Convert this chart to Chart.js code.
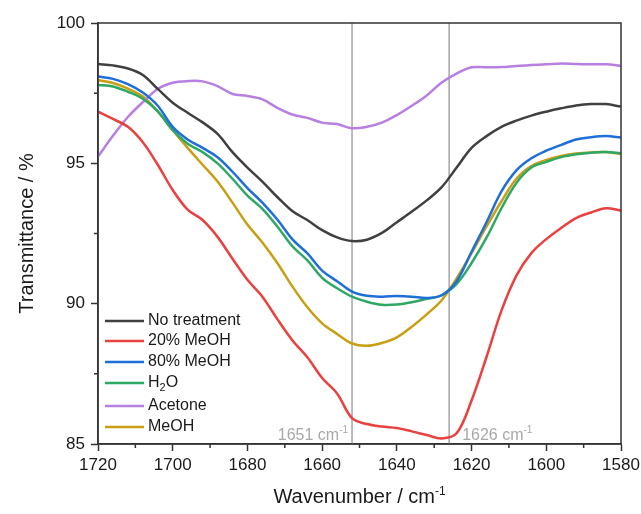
<!DOCTYPE html>
<html>
<head>
<meta charset="utf-8">
<script src="https://cdn.jsdelivr.net/npm/chart.js@4/dist/chart.umd.min.js"></script>
<style>
  html, body { margin: 0; padding: 0; background: #fff; }
  canvas { display: block; }
</style>
</head>
<body>
<canvas id="ftir" width="641" height="514"></canvas>
<script>
// wavenumber grid, cm-1
var wavenumbers = [1720,1716,1712,1708,1704,1700,1696,1692,1688,1684,1680,1676,1672,1668,1664,1660,1656,1652,
                   1648,1644,1640,1636,1632,1628,1624,1620,1616,1612,1608,1604,1600,1596,1592,1588,1584,1580];

var noTreatment = [98.54,98.49,98.38,98.15,97.65,97.16,96.80,96.46,96.05,95.40,94.85,94.35,93.80,93.30,92.98,92.62,92.36,92.23,
                   92.28,92.52,92.90,93.28,93.68,94.15,94.85,95.55,95.97,96.30,96.52,96.70,96.84,96.96,97.06,97.11,97.11,97.02];
var meoh20 = [96.84,96.58,96.30,95.75,94.95,94.05,93.35,92.98,92.38,91.60,90.85,90.25,89.45,88.70,88.10,87.35,86.80,85.92,
              85.71,85.62,85.57,85.45,85.32,85.20,85.38,86.55,88.10,89.75,91.00,91.80,92.30,92.70,93.05,93.25,93.40,93.32];
var meoh80 = [98.09,98.01,97.82,97.52,97.05,96.30,95.85,95.55,95.22,94.70,94.12,93.60,93.00,92.30,91.80,91.18,90.80,90.43,
              90.28,90.25,90.27,90.25,90.20,90.30,90.80,91.85,92.90,94.00,94.75,95.18,95.45,95.66,95.85,95.93,95.97,95.92];
var water = [97.79,97.74,97.55,97.30,96.85,96.18,95.70,95.40,95.00,94.45,93.85,93.38,92.75,92.05,91.55,90.92,90.55,90.25,
             90.07,89.96,89.97,90.05,90.17,90.30,90.70,91.45,92.35,93.40,94.30,94.85,95.05,95.22,95.32,95.38,95.40,95.36];
var acetone = [95.24,95.98,96.65,97.18,97.65,97.87,97.93,97.92,97.75,97.47,97.40,97.28,96.98,96.74,96.62,96.45,96.40,96.25,
               96.30,96.45,96.72,97.05,97.42,97.88,98.20,98.42,98.42,98.43,98.47,98.50,98.53,98.56,98.54,98.53,98.53,98.47];
var meoh = [97.97,97.86,97.66,97.38,96.85,96.18,95.55,94.95,94.35,93.60,92.82,92.18,91.45,90.62,89.88,89.30,88.92,88.58,
            88.50,88.60,88.80,89.18,89.62,90.12,90.90,91.80,92.75,93.65,94.45,94.90,95.12,95.26,95.35,95.39,95.40,95.33];

var seriesNames = ['No treatment', '20% MeOH', '80% MeOH', 'H2O', 'Acetone', 'MeOH'];
var seriesColors = ['#404040', '#e8413f', '#1f6fd8', '#2fa865', '#b77fe0', '#c99e12'];
var seriesValues = [noTreatment, meoh20, meoh80, water, acetone, meoh];

var markerLines = [1652, 1626];
var markerLabels = ['1651', '1626'];
var xMinorTicks = [1710, 1690, 1670, 1650, 1630, 1610, 1590];
var yMinorTicks = [97.5, 92.5, 87.5];

var FONT = '"Liberation Sans", Arial, sans-serif';

function toPoints(vals) {
  return wavenumbers.map(function(w, i){ return {x: w, y: vals[i]}; });
}

// text with a superscript tail like cm-1
function textWithSup(ctx, x, y, main, sup, size, align) {
  ctx.font = size + 'px ' + FONT;
  var w1 = ctx.measureText(main).width;
  ctx.font = Math.round(size * 0.62) + 'px ' + FONT;
  var w2 = ctx.measureText(sup).width;
  var start = align === 'right' ? x - w1 - w2 : (align === 'center' ? x - (w1 + w2) / 2 : x);
  ctx.textAlign = 'left';
  ctx.font = size + 'px ' + FONT;
  ctx.fillText(main, start, y);
  ctx.font = Math.round(size * 0.62) + 'px ' + FONT;
  ctx.fillText(sup, start + w1, y - size * 0.42);
}

var decorPlugin = {
  id: 'decor',
  beforeDatasetsDraw: function(chart) {
    var ctx = chart.ctx, a = chart.chartArea, xs = chart.scales.x;
    ctx.save();
    ctx.strokeStyle = '#a5a5a5';
    ctx.lineWidth = 1.5;
    markerLines.forEach(function(w){
      var px = xs.getPixelForValue(w);
      ctx.beginPath(); ctx.moveTo(px, a.top); ctx.lineTo(px, a.bottom); ctx.stroke();
    });
    ctx.restore();
  },
  afterDraw: function(chart) {
    var ctx = chart.ctx, a = chart.chartArea, xs = chart.scales.x, ys = chart.scales.y;
    ctx.save();
    // frame
    ctx.strokeStyle = '#333';
    ctx.lineWidth = 1.5;
    ctx.strokeRect(a.left, a.top, a.right - a.left, a.bottom - a.top);
    // minor ticks
    ctx.beginPath();
    xMinorTicks.forEach(function(v){
      var px = xs.getPixelForValue(v);
      ctx.moveTo(px, a.bottom); ctx.lineTo(px, a.bottom + 4);
    });
    yMinorTicks.forEach(function(v){
      var py = ys.getPixelForValue(v);
      ctx.moveTo(a.left, py); ctx.lineTo(a.left - 4, py);
    });
    ctx.stroke();

    // marker labels
    ctx.fillStyle = '#a8a8a8';
    ctx.textBaseline = 'alphabetic';
    var p1 = xs.getPixelForValue(markerLines[0]);
    var p2 = xs.getPixelForValue(markerLines[1]);
    textWithSup(ctx, p1 - 4, a.bottom - 4, markerLabels[0] + ' cm', '-1', 16, 'right');
    textWithSup(ctx, p2 + 13, a.bottom - 4, markerLabels[1] + ' cm', '-1', 16, 'left');

    // axis titles
    ctx.fillStyle = '#1a1a1a';
    textWithSup(ctx, (a.left + a.right) / 2, 503, 'Wavenumber / cm', '-1', 20, 'center');
    ctx.save();
    ctx.translate(33, (a.top + a.bottom) / 2);
    ctx.rotate(-Math.PI / 2);
    ctx.font = '20px ' + FONT;
    ctx.textAlign = 'center';
    ctx.fillText('Transmittance / %', 0, 0);
    ctx.restore();

    // legend
    var rows = [321, 341, 362, 383, 406, 427];
    ctx.lineWidth = 2.5;
    ctx.textAlign = 'left';
    ctx.textBaseline = 'middle';
    seriesNames.forEach(function(name, i){
      var y = rows[i];
      ctx.strokeStyle = seriesColors[i];
      ctx.beginPath(); ctx.moveTo(105, y); ctx.lineTo(144, y); ctx.stroke();
      ctx.fillStyle = '#1a1a1a';
      ctx.font = '16px ' + FONT;
      if (name === 'H2O') {
        ctx.fillText('H', 148, y);
        var wh = ctx.measureText('H').width;
        ctx.font = '11px ' + FONT;
        ctx.fillText('2', 148 + wh, y + 5);
        var w2 = ctx.measureText('2').width;
        ctx.font = '16px ' + FONT;
        ctx.fillText('O', 148 + wh + w2, y);
      } else {
        ctx.fillText(name, 148, y);
      }
    });
    ctx.restore();
  }
};

new Chart(document.getElementById('ftir'), {
  type: 'line',
  data: {
    datasets: seriesNames.map(function(name, i){
      return {
        label: name,
        data: toPoints(seriesValues[i]),
        borderColor: seriesColors[i],
        backgroundColor: seriesColors[i],
        borderWidth: 2.5,
        pointRadius: 0,
        tension: 0.35,
        fill: false
      };
    })
  },
  options: {
    responsive: false,
    animation: false,
    layout: { padding: { top: 23, right: 20, left: 0, bottom: 0 } },
    plugins: { legend: { display: false }, tooltip: { enabled: false } },
    scales: {
      x: {
        type: 'linear',
        reverse: true,
        min: 1580,
        max: 1720,
        afterFit: function(s){ s.height = 70; s.paddingLeft = 0; s.paddingRight = 0; },
        ticks: { stepSize: 20, color: '#1a1a1a', font: { size: 17, family: FONT }, padding: 4, maxRotation: 0,
                 callback: function(v){ return String(v); } },
        grid: { drawOnChartArea: false, tickLength: 7, color: '#333', tickWidth: 1.5 },
        border: { color: '#333', width: 1.5 }
      },
      y: {
        min: 85,
        max: 100,
        afterFit: function(s){ s.width = 98; },
        ticks: { stepSize: 5, color: '#1a1a1a', font: { size: 17, family: FONT }, padding: 6,
                 callback: function(v){ return String(v); } },
        grid: { drawOnChartArea: false, tickLength: 7, color: '#333', tickWidth: 1.5 },
        border: { color: '#333', width: 1.5 }
      }
    }
  },
  plugins: [decorPlugin]
});
</script>
</body>
</html>
